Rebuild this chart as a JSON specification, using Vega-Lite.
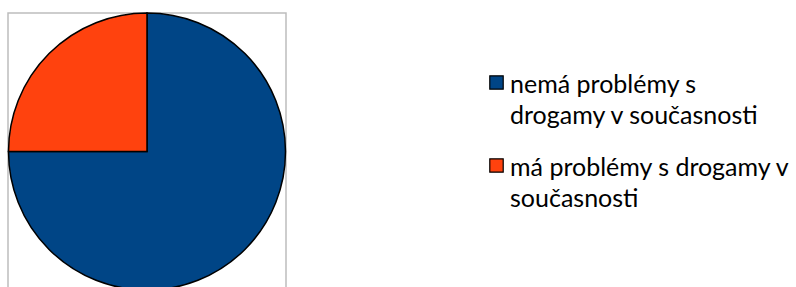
{
  "$schema": "https://vega.github.io/schema/vega-lite/v6.json",
  "width": 278,
  "height": 277,
  "autosize": {"type": "none"},
  "padding": {"left": 8, "top": 13, "right": 510, "bottom": 0},
  "background": "white",
  "view": {"stroke": "#bdbdbd", "strokeWidth": 1.5},
  "config": {
    "view": {"stroke": "#bdbdbd", "strokeWidth": 1.5},
    "font": "Lato"
  },
  "data": {
    "values": [
      {"kategorie": "nemá problémy s|drogamy v současnosti", "podil": 75, "poradi": 1},
      {"kategorie": "\u2002má problémy s drogamy v|současnosti", "podil": 25, "poradi": 2}
    ]
  },
  "mark": {"type": "arc", "outerRadius": 138.5, "stroke": "black", "strokeWidth": 1.5},
  "encoding": {
    "theta": {"field": "podil", "type": "quantitative", "stack": true},
    "order": {"field": "poradi", "type": "quantitative"},
    "color": {
      "field": "kategorie",
      "type": "nominal",
      "scale": {
        "domain": ["nemá problémy s|drogamy v současnosti", "\u2002má problémy s drogamy v|současnosti"],
        "range": ["#004586", "#ff420e"]
      },
      "legend": {
        "title": null,
        "orient": "none",
        "legendX": 476,
        "legendY": 57,
        "padding": 0,
        "symbolType": "square",
        "symbolSize": 180,
        "symbolStrokeColor": "black",
        "symbolStrokeWidth": 1.2,
        "symbolOpacity": 1,
        "labelFont": "Lato",
        "labelFontSize": 25,
        "labelColor": "black",
        "labelOffset": 1,
        "labelLimit": 400,
        "labelBaseline": "alphabetic",
        "labelExpr": "split(datum.label, '|')",
        "rowPadding": 24,
        "encode": {
          "labels": {"update": {"dy": {"value": 10}, "lineHeight": {"value": 31}}}
        }
      }
    }
  }
}
